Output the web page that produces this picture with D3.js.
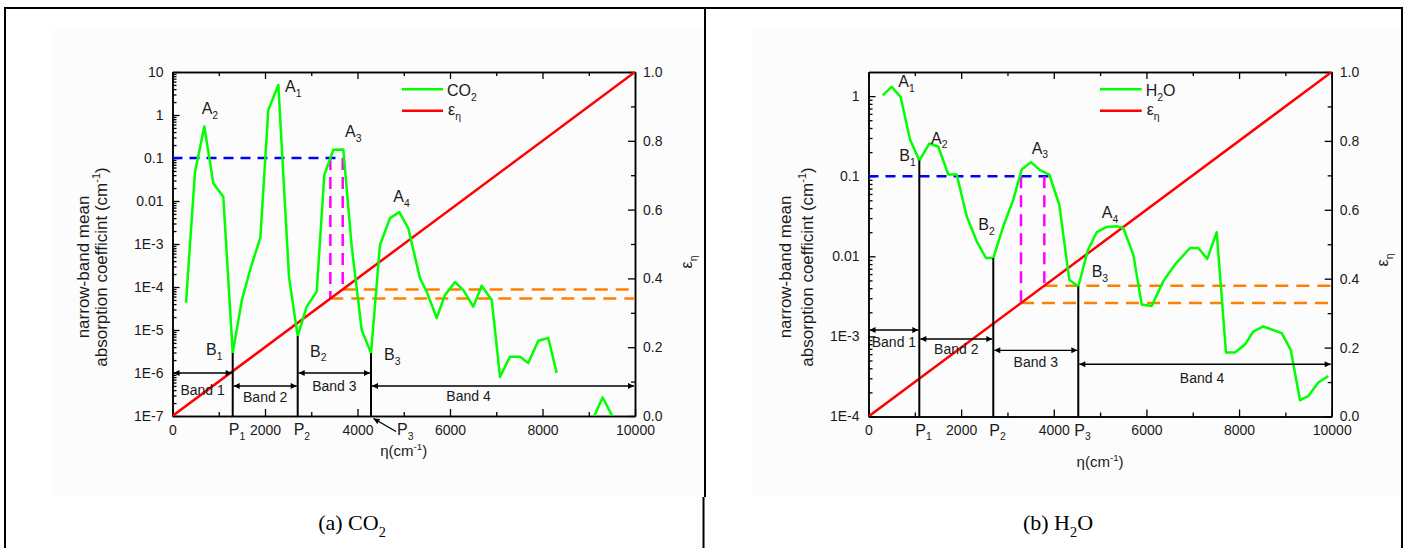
<!DOCTYPE html>
<html><head><meta charset="utf-8">
<script src="https://cdn.jsdelivr.net/npm/d3@7/dist/d3.min.js"></script>
<style>
body{margin:0;background:#fff;}
svg{display:block;}
text{font-family:"Liberation Sans",Arial,sans-serif;fill:#1a1a1a;}
</style></head><body>
<svg id="c" width="1418" height="548"></svg>
<script>
// ---------------- data ----------------
const co2Eta = [292,486,688,882,1098,1302,1500,1700,1900,2071,2288,2519,2707,2902,3118,3282,3477,3693,3875,4091,4292,4486,4703,4904,5099,5351,5496,5712,5892,6108,6288,6504,6685,6902,7081,7297,7514,7693,7909,8125,8307,8700,9080,9300,9530];
const co2K   = [4.3e-5,0.047,0.54,0.026,0.0126,2.9e-6,5e-5,3e-4,1.4e-3,1.3,5.0,1.7e-4,7.2e-6,3.5e-5,7.8e-5,0.04,0.155,0.158,8.7e-4,1e-5,2.9e-6,9.5e-4,4.0e-3,5.5e-3,2.3e-3,1.6e-4,7.8e-5,1.9e-5,6.5e-5,1.3e-4,8.5e-5,3.5e-5,1.07e-4,5e-5,8.1e-7,2.4e-6,2.4e-6,1.7e-6,5.6e-6,6.5e-6,1.0e-6,null,8e-8,2.7e-7,9e-8];

const h2oEta = [307,501,695,896,1097,1313,1507,1723,1904,2120,2336,2537,2694,2910,3126,3307,3508,3703,3903,4119,4335,4529,4737,4927,5143,5358,5501,5717,5898,6114,6365,6617,6941,7120,7314,7517,7718,7912,8128,8307,8523,8921,9115,9316,9495,9711,9927];
const h2oK   = [1.02,1.31,0.97,0.288,0.157,0.256,0.233,0.105,0.105,0.0316,0.0154,0.0095,0.0095,0.0237,0.051,0.121,0.15,0.119,0.105,0.044,0.0051,0.0042,0.012,0.020,0.0233,0.0237,0.0226,0.0105,0.0025,0.0024,0.0049,0.0079,0.0127,0.0127,0.0093,0.020,6.3e-4,6.3e-4,7.9e-4,1.15e-3,1.33e-3,1.1e-3,6.8e-4,1.6e-4,1.8e-4,2.66e-4,3.2e-4];

const epsEta = [0, 10000];
const epsVal = [0, 1];

const xTicks  = [0,2000,4000,6000,8000,10000];
const xMinor  = [1000,3000,5000,7000,9000];
const eTicks  = [0,0.2,0.4,0.6,0.8,1.0];
const eLabels = ["0.0","0.2","0.4","0.6","0.8","1.0"];
const eMinor  = [0.1,0.3,0.5,0.7,0.9];
const co2YTicks  = [10,1,0.1,0.01,1e-3,1e-4,1e-5,1e-6,1e-7];
const co2YLabels = ["10","1","0.1","0.01","1E-3","1E-4","1E-5","1E-6","1E-7"];
const h2oYTicks  = [1,0.1,0.01,1e-3,1e-4];
const h2oYLabels = ["1","0.1","0.01","1E-3","1E-4"];

// band boundaries P1..P3 and curve minima B1..B3
const co2P = [1302,2707,4292];
const co2B = [2.9e-6,7.2e-6,2.9e-6];
const h2oP = [1097,2694,4529];
const h2oB = [0.157,0.0095,0.0042];
// reference level, magenta crossings, blue end
const refK = 0.1;
const co2Mag = [3413,3680];
const h2oMag = [3292,3796];
const co2BlueEnd = 3680;
const h2oBlueEnd = 3903;
// band arrows (y value) and band-4 label position
const co2ArrowK = [1e-6,5e-7,1e-6,5e-7];
const h2oArrowK = [1.2e-3,9.3e-4,6.7e-4,4.5e-4];
const co2Band4LabelEta = 6400;
const h2oBand4LabelEta = 7200;
// peak / minimum labels [letter, index, eta, value]
const co2Ann = [["A","1",2432,3.37],["A","2",631,1.05],["A","3",3730,0.30],["A","4",4774,9.6e-3],
                ["B","1",724,2.6e-6],["B","2",2973,2.4e-6],["B","3",4573,2.0e-6]];
const h2oAnn = [["A","1",643,1.30],["A","2",1349,0.256],["A","3",3523,0.192],["A","4",5035,0.0302],
                ["B","1",665,0.154],["B","2",2371,0.0211],["B","3",4818,5.5e-3]];

// ---------------- drawing ----------------
const svg = d3.select('#c');
svg.append('rect').attr('width',1418).attr('height',548).attr('fill','#fff');
const defs = svg.append('defs');
defs.append('marker').attr('id','ah').attr('viewBox','0 0 10 10').attr('refX',10).attr('refY',5)
  .attr('markerWidth',9).attr('markerHeight',6).attr('markerUnits','userSpaceOnUse')
  .attr('orient','auto-start-reverse')
  .append('path').attr('d','M0,0L10,5L0,10Z').attr('fill','#000');

// panel backgrounds
svg.append('rect').attr('x',52).attr('y',28).attr('width',651).attr('height',469).attr('fill','#fcfcfc');
svg.append('rect').attr('x',752).attr('y',28).attr('width',648).attr('height',469).attr('fill','#fcfcfc');

// table lines
const tl = svg.append('g').attr('stroke','#000').attr('stroke-width',2);
tl.append('line').attr('x1',4).attr('x2',1403).attr('y1',8).attr('y2',8);
tl.append('line').attr('x1',5).attr('x2',5).attr('y1',8).attr('y2',548);
tl.append('line').attr('x1',705).attr('x2',705).attr('y1',8).attr('y2',497);
tl.append('line').attr('x1',703.5).attr('x2',703.5).attr('y1',497).attr('y2',548);
tl.append('line').attr('x1',1402).attr('x2',1402).attr('y1',8).attr('y2',548);

function rich(g, x, y, parts, size, anchor, rotate){
  const t = g.append('text').attr('font-size',size).attr('text-anchor',anchor||'start');
  if (rotate) t.attr('transform',`translate(${x},${y}) rotate(${rotate})`);
  else t.attr('x',x).attr('y',y);
  let shift = 0;
  parts.forEach(p=>{
    const [s,kind] = p;
    const ts = t.append('tspan').text(s);
    let target = 0, fs = size;
    if (kind==='sub'){ target = size*0.3; fs = size*0.65; }
    if (kind==='sup'){ target = -size*0.4; fs = size*0.65; }
    ts.attr('font-size',fs);
    if (target!==shift){ ts.attr('dy',target-shift); shift = target; }
  });
  return t;
}

function logMinor(domain){
  const out=[];
  for(let e=-8;e<=2;e++) for(let k=2;k<=9;k++){
    const v=k*Math.pow(10,e);
    if(v>domain[0]*1.0001 && v<domain[1]*0.9999) out.push(v);
  }
  return out;
}

function drawChart(c){
  const g = svg.append('g');
  const x = d3.scaleLinear().domain([0,10000]).range(c.xr);
  const y = d3.scaleLog().domain(c.yDomain).range([c.yb,c.yt]);
  const e = d3.scaleLinear().domain([0,1]).range([c.yb,c.yt]);
  const clipId = 'clip'+c.id;
  defs.append('clipPath').attr('id',clipId).append('rect')
    .attr('x',c.xr[0]).attr('y',c.yt).attr('width',c.xr[1]-c.xr[0]).attr('height',c.yb-c.yt);

  const style = (sel)=>{ sel.attr('font-size',14).attr('font-family','"Liberation Sans",Arial,sans-serif');
    sel.select('.domain').attr('stroke-width',1.5); sel.selectAll('.tick line').attr('stroke-width',1.3);
    sel.selectAll('.tick text').attr('fill','#1a1a1a'); };

  // axes
  g.append('g').attr('transform',`translate(0,${c.yb})`)
    .call(d3.axisBottom(x).tickValues(xTicks).tickFormat(d3.format('d')).tickSizeInner(-7).tickSizeOuter(0).tickPadding(9)).call(style);
  g.append('g').attr('transform',`translate(0,${c.yb})`)
    .call(d3.axisBottom(x).tickValues(xMinor).tickFormat('').tickSizeInner(-4).tickSizeOuter(0)).call(style);
  g.append('g').attr('transform',`translate(0,${c.yt})`)
    .call(d3.axisTop(x).tickValues(xTicks).tickFormat('').tickSizeInner(-7).tickSizeOuter(0)).call(style);
  g.append('g').attr('transform',`translate(0,${c.yt})`)
    .call(d3.axisTop(x).tickValues(xMinor).tickFormat('').tickSizeInner(-4).tickSizeOuter(0)).call(style);
  g.append('g').attr('transform',`translate(${c.xr[0]},0)`)
    .call(d3.axisLeft(y).tickValues(c.yTicks).tickFormat((d,i)=>c.yLabels[i]).tickSizeInner(-7).tickSizeOuter(0).tickPadding(9)).call(style);
  g.append('g').attr('transform',`translate(${c.xr[0]},0)`)
    .call(d3.axisLeft(y).tickValues(logMinor(c.yDomain)).tickFormat('').tickSizeInner(-4).tickSizeOuter(0)).call(style);
  g.append('g').attr('transform',`translate(${c.xr[1]},0)`)
    .call(d3.axisRight(e).tickValues(eTicks).tickFormat((d,i)=>eLabels[i]).tickSizeInner(-7).tickSizeOuter(0).tickPadding(8)).call(style);
  g.append('g').attr('transform',`translate(${c.xr[1]},0)`)
    .call(d3.axisRight(e).tickValues(eMinor).tickFormat('').tickSizeInner(-4).tickSizeOuter(0)).call(style);

  const plot = g.append('g').attr('clip-path',`url(#${clipId})`);

  // P vertical lines
  c.P.forEach((p,i)=>{
    g.append('line').attr('x1',x(p)).attr('x2',x(p)).attr('y1',c.yb).attr('y2',y(c.B[i]))
      .attr('stroke','#000').attr('stroke-width',2);
  });

  // band arrows
  const bounds = [0].concat(c.P).concat([10000]);
  for(let i=0;i<4;i++){
    const ya = y(c.arrowK[i]);
    g.append('line').attr('x1',x(bounds[i])+1).attr('x2',x(bounds[i+1])-1).attr('y1',ya).attr('y2',ya)
      .attr('stroke','#000').attr('stroke-width',1.4)
      .attr('marker-start','url(#ah)').attr('marker-end','url(#ah)');
    const lx = i<3 ? x((bounds[i]+bounds[i+1])/2) : x(c.band4Eta);
    g.append('text').attr('x',lx).attr('y',ya+c.bandOff[i]).attr('text-anchor','middle')
      .attr('font-size',14).text('Band '+(i+1));
  }

  // reference dashed lines
  plot.append('line').attr('x1',x(0)).attr('x2',x(c.blueEnd)).attr('y1',y(refK)).attr('y2',y(refK))
    .attr('stroke','#0000ff').attr('stroke-width',2.5).attr('stroke-dasharray','10,7');
  c.mag.forEach(m=>{
    plot.append('line').attr('x1',x(m)).attr('x2',x(m)).attr('y1',y(refK)).attr('y2',e(m/10000))
      .attr('stroke','#ff00ff').attr('stroke-width',2.5).attr('stroke-dasharray','12,7');
    plot.append('line').attr('x1',x(m)).attr('x2',x(10000)).attr('y1',e(m/10000)).attr('y2',e(m/10000))
      .attr('stroke','#ff8000').attr('stroke-width',2.5).attr('stroke-dasharray','13,8');
  });

  // epsilon line
  plot.append('path').datum(epsEta.map((d,i)=>[d,epsVal[i]]))
    .attr('d',d3.line().x(d=>x(d[0])).y(d=>e(d[1])))
    .attr('fill','none').attr('stroke','#ff0000').attr('stroke-width',2.5);

  // absorption curve
  plot.append('path').datum(c.eta.map((d,i)=>[d,c.k[i]]))
    .attr('d',d3.line().defined(d=>d[1]!=null).x(d=>x(d[0])).y(d=>y(d[1])))
    .attr('fill','none').attr('stroke','#00ff00').attr('stroke-width',2.5).attr('stroke-linejoin','round');

  // A/B labels
  c.ann.forEach(a=>{
    rich(g, x(a[2]), y(a[3]), [[a[0],'n'],[a[1],'sub']], 16, 'start');
  });

  // P labels
  c.P.forEach((p,i)=>{
    const dx = (c.p3arrow && i===2) ? 26 : -4;
    rich(g, x(p)+dx, c.yb+19, [['P','n'],[String(i+1),'sub']], 16, 'start');
  });
  if (c.p3arrow){
    const px = x(c.P[2]);
    g.append('line').attr('x1',px+25).attr('y1',c.yb+15.5).attr('x2',px+2.5).attr('y2',c.yb+2.5)
      .attr('stroke','#000').attr('stroke-width',1.4).attr('marker-end','url(#ah)');
  }

  // legend
  g.append('line').attr('x1',c.legX[0]).attr('x2',c.legX[1]).attr('y1',89.3).attr('y2',89.3)
    .attr('stroke','#00ff00').attr('stroke-width',2.5);
  g.append('line').attr('x1',c.legX[0]).attr('x2',c.legX[1]).attr('y1',110.7).attr('y2',110.7)
    .attr('stroke','#ff0000').attr('stroke-width',2.5);
  rich(g, c.legX[1]+4, 96, c.legName, 16, 'start');
  rich(g, c.legX[1]+5, 115, [['ε','n'],['η','sub']], 16, 'start');

  // axis titles
  const cx = (c.xr[0]+c.xr[1])/2;
  rich(g, cx, c.xTitleY, [['η(cm','n'],['-1','sup'],[')','n']], 15, 'middle');
  rich(g, c.yTitleX[0], 267, [['narrow-band mean','n']], 17, 'middle', -90);
  rich(g, c.yTitleX[1], 267, [['absorption coefficint (cm','n'],['-1','sup'],[')','n']], 17, 'middle', -90);
  rich(g, c.eTitleX, c.eTitleY, [['ε','n'],['η','sub']], 16, 'middle', -90);
}

drawChart({id:'a', xr:[172.5,635], yb:416, yt:72, yDomain:[1e-7,10], eta:co2Eta, k:co2K,
  yTicks:co2YTicks, yLabels:co2YLabels, P:co2P, B:co2B, mag:co2Mag, blueEnd:co2BlueEnd,
  arrowK:co2ArrowK, band4Eta:co2Band4LabelEta, bandOff:[21.7,15.7,18,15], ann:co2Ann, p3arrow:true,
  legX:[402,443], legName:[['CO','n'],['2','sub']], xTitleY:456, yTitleX:[89,107], eTitleX:692, eTitleY:262});

drawChart({id:'b', xr:[868.5,1331.7], yb:416.5, yt:72, yDomain:[1e-4,2], eta:h2oEta, k:h2oK,
  yTicks:h2oYTicks, yLabels:h2oYLabels, P:h2oP, B:h2oB, mag:h2oMag, blueEnd:h2oBlueEnd,
  arrowK:h2oArrowK, band4Eta:h2oBand4LabelEta, bandOff:[16.7,15,17,18.4], ann:h2oAnn, p3arrow:false,
  legX:[1100,1141.7], legName:[['H','n'],['2','sub'],['O','n']], xTitleY:467, yTitleX:[791,813], eTitleX:1388, eTitleY:260});

// captions
const cap = svg.append('g');
const c1 = rich(cap, 352, 530, [['(a) CO','n'],['2','sub']], 22, 'middle');
const c2 = rich(cap, 1058, 530, [['(b) H','n'],['2','sub'],['O','n']], 22, 'middle');
[c1,c2].forEach(t=>t.style('font-family','"Liberation Serif","Times New Roman",serif').style('fill','#000'));
</script>
</body></html>
